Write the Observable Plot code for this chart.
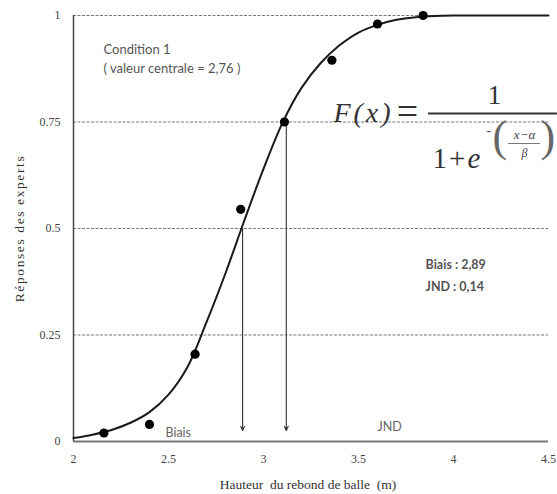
<!DOCTYPE html>
<html>
<head>
<meta charset="utf-8">
<script src="https://cdn.jsdelivr.net/npm/d3@7"></script>
<script src="https://cdn.jsdelivr.net/npm/@observablehq/plot@0.6"></script>
<style>
  html, body { margin: 0; padding: 0; background: #fff; }
</style>
</head>
<body>
<div id="chart"></div>
<script>
// ---- data ----
const xTicks = [2, 2.5, 3, 3.5, 4, 4.5];
const yTicks = [0, 0.25, 0.5, 0.75, 1];
const gridY = [0.25, 0.5, 0.75, 1];

// expert responses (dots)
const pointX = [2.16, 2.40, 2.64, 2.88, 3.11, 3.36, 3.60, 3.84];
const pointY = [0.02, 0.04, 0.205, 0.545, 0.75, 0.895, 0.98, 1.0];

// fitted psychometric curve
const curveX = [2.0, 2.1, 2.2, 2.3, 2.4, 2.5, 2.6, 2.7, 2.8, 2.9, 3.0, 3.1, 3.2, 3.3, 3.4, 3.5, 3.6, 3.7, 3.8, 3.9, 4.0, 4.2, 4.5];
const curveY = [0.008, 0.016, 0.027, 0.044, 0.069, 0.11, 0.175, 0.28, 0.395, 0.52, 0.64, 0.748, 0.83, 0.888, 0.93, 0.96, 0.978, 0.99, 0.996, 0.999, 1.0, 1.0, 1.0];

// drop lines (bias at 0.5, 0.75 point for JND)
const dropX = [2.89, 3.12];
const dropTop = [0.5, 0.75];
const dropEnd = [0.026, 0.026];

const yLabel = "Réponses des experts";
const xLabel = "Hauteur  du rebond de balle  (m)";
const conditionLines = ["Condition 1", "( valeur centrale = 2,76 )"];
const resultLines = ["Biais : 2,89", "JND : 0,14"];

const points = pointX.map((x, i) => ({x, y: pointY[i]}));
const curve = curveX.map((x, i) => ({x, y: curveY[i]}));
const drops = dropX.map((x, i) => ({x, y1: dropTop[i], y2: dropEnd[i]}));

const serif = "'Liberation Serif', 'DejaVu Serif', serif";
const sans = "Lato, 'Open Sans', sans-serif";
const ink = "#555";
const fmt = d => String(d);

const chart = Plot.plot({
  width: 557,
  height: 494,
  marginLeft: 73,
  marginRight: 9,
  marginTop: 15,
  marginBottom: 53,
  style: {background: "#fff", fontFamily: serif, overflow: "visible"},
  x: {domain: [2, 4.5]},
  y: {domain: [0, 1]},
  marks: [
    Plot.axisX({ticks: xTicks, tickSize: 0, tickPadding: 13, tickFormat: fmt, label: null, fontSize: 12, fill: "#444", fontFamily: serif}),
    Plot.axisY({ticks: yTicks, tickSize: 0, tickPadding: 13, tickFormat: fmt, label: null, fontSize: 12, fill: "#444", fontFamily: serif}),
    Plot.ruleY(gridY, {stroke: "#777", strokeWidth: 1, strokeDasharray: "3,1.5"}),
    Plot.ruleX([2], {y1: 0, y2: 1, stroke: "#444", strokeWidth: 1.5}),
    Plot.ruleY([0], {stroke: "#777", strokeWidth: 2}),
    Plot.arrow(drops, {x1: "x", x2: "x", y1: "y1", y2: "y2", stroke: "#333", strokeWidth: 1.1, headLength: 6, headAngle: 50}),
    Plot.line(curve, {x: "x", y: "y", curve: "catmull-rom", stroke: "#1a1a1a", strokeWidth: 2}),
    Plot.dot(points, {x: "x", y: "y", r: 4.6, fill: "#000", stroke: "none"}),

    // axis titles
    Plot.text([yLabel], {frameAnchor: "left", dx: -54, rotate: -90, text: d => d, fontSize: 13.5, fontFamily: serif, fill: "#333", lineAnchor: "middle", textAnchor: "middle"}),
    Plot.text([xLabel], {frameAnchor: "bottom", dx: -3, dy: 43, text: d => d, fontSize: 13.5, fontFamily: serif, fill: "#333", lineAnchor: "middle"}),

    // condition note
    Plot.text([conditionLines[0]], {x: 2.158, y: 0.9085, text: d => d, textAnchor: "start", lineAnchor: "bottom", fontSize: 13, fontFamily: sans, fill: ink}),
    Plot.text([conditionLines[1]], {x: 2.158, y: 0.866, text: d => d, textAnchor: "start", lineAnchor: "bottom", fontSize: 13, fontFamily: sans, fill: ink}),

    // results
    Plot.text([resultLines[0]], {x: 3.853, y: 0.404, text: d => d, textAnchor: "start", lineAnchor: "bottom", fontSize: 12.5, fontWeight: "bold", fontFamily: sans, fill: ink}),
    Plot.text([resultLines[1]], {x: 3.853, y: 0.354, text: d => d, textAnchor: "start", lineAnchor: "bottom", fontSize: 12.5, fontWeight: "bold", fontFamily: sans, fill: ink}),

    // bottom labels
    Plot.text(["Biais"], {x: 2.484, y: 0.0117, text: d => d, textAnchor: "start", lineAnchor: "bottom", fontSize: 12.5, fontFamily: sans, fill: "#666"}),
    Plot.text(["JND"], {x: 3.6, y: 0.0235, text: d => d, textAnchor: "start", lineAnchor: "bottom", fontSize: 12.5, fontFamily: sans, fill: "#666"}),

    // formula F(x) = 1 / (1 + e^-((x-α)/β))
    Plot.text(["F(x)"], {x: 3.368, y: 0.751, text: d => d, textAnchor: "start", lineAnchor: "bottom", fontSize: 28, fontStyle: "italic", fontFamily: serif, fill: "#333"}),
    Plot.text(["="], {x: 3.758, y: 0.745, text: d => d, textAnchor: "middle", lineAnchor: "bottom", fontSize: 38, fontFamily: serif, fill: "#333"}),
    Plot.ruleY([0.770], {x1: 3.868, x2: 4.547, stroke: "#333", strokeWidth: 1.8}),
    Plot.text(["1"], {x: 4.216, y: 0.793, text: d => d, textAnchor: "middle", lineAnchor: "bottom", fontSize: 27, fontFamily: serif, fill: "#333"}),
    Plot.text(["1+"], {x: 3.889, y: 0.643, text: d => d, textAnchor: "start", lineAnchor: "bottom", fontSize: 29, fontFamily: serif, fill: "#333"}),
    Plot.text(["e"], {x: 4.074, y: 0.643, text: d => d, textAnchor: "start", lineAnchor: "bottom", fontSize: 29, fontStyle: "italic", fontFamily: serif, fill: "#333"}),
    Plot.text(["-"], {x: 4.174, y: 0.72, text: d => d, textAnchor: "start", lineAnchor: "bottom", fontSize: 14, fontFamily: serif, fill: "#555"}),
    Plot.text(["("], {x: 4.205, y: 0.681, text: d => d, textAnchor: "start", lineAnchor: "bottom", fontSize: 44, fontFamily: serif, fill: "#666", fontWeight: 300}),
    Plot.text([")"], {x: 4.458, y: 0.681, text: d => d, textAnchor: "start", lineAnchor: "bottom", fontSize: 44, fontFamily: serif, fill: "#666", fontWeight: 300}),
    Plot.text(["x−α"], {x: 4.374, y: 0.709, text: d => d, textAnchor: "middle", lineAnchor: "bottom", fontSize: 13, fontStyle: "italic", fontFamily: serif, fill: "#444"}),
    Plot.ruleY([0.6995], {x1: 4.289, x2: 4.458, stroke: "#555", strokeWidth: 0.8}),
    Plot.text(["β"], {x: 4.374, y: 0.669, text: d => d, textAnchor: "middle", lineAnchor: "bottom", fontSize: 12, fontStyle: "italic", fontFamily: serif, fill: "#444"})
  ]
});

// small typographic tweaks (letter spacing)
chart.querySelectorAll("text").forEach(t => {
  const s = t.textContent;
  if (s === yLabel) t.setAttribute("letter-spacing", "1.6");
  if (s === "F(x)") t.setAttribute("letter-spacing", "3");
  if (s === "1+") t.setAttribute("letter-spacing", "2");
});

document.getElementById("chart").appendChild(chart);
</script>
</body>
</html>
